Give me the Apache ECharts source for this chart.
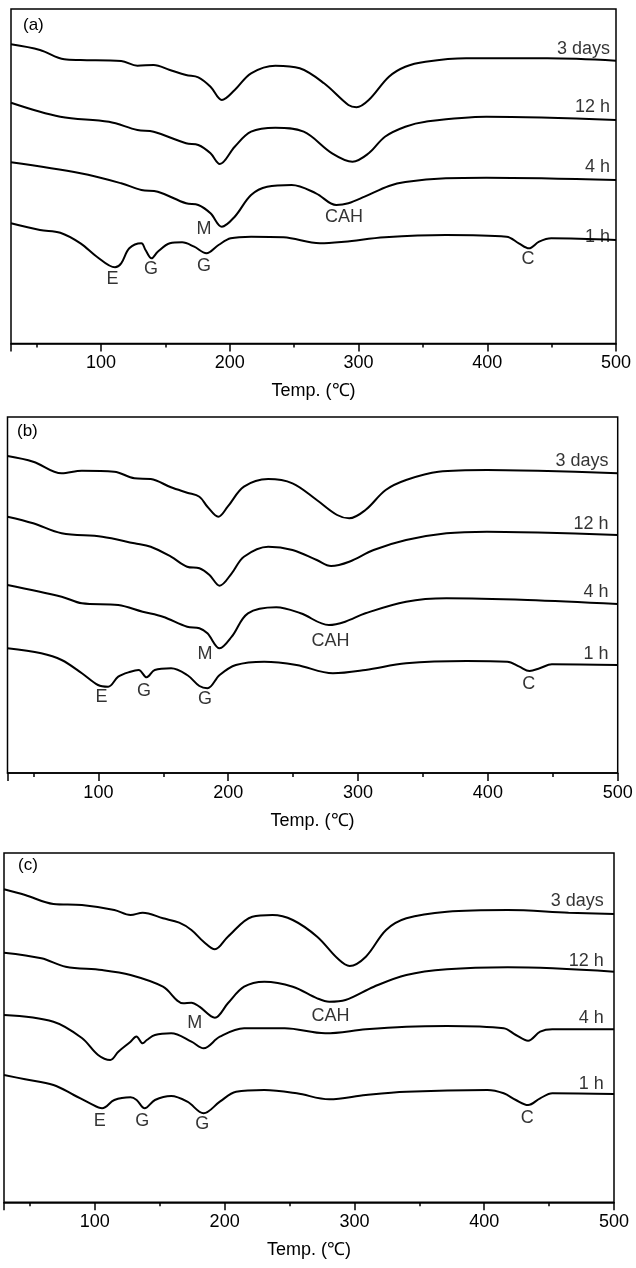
<!DOCTYPE html>
<html>
<head>
<meta charset="utf-8">
<script src="https://cdn.jsdelivr.net/npm/echarts@6/dist/echarts.min.js"></script>
<style>
html,body{margin:0;padding:0;background:#fff;}
#chart{width:636px;height:1268px;}
</style>
</head>
<body>
<div id="chart"></div>
<script>
// ---------- DATA (temperature in °C, DSC signal in arbitrary units, endo down, curves offset) ----------
const TEMP_MIN = 30, TEMP_MAX = 500;
const majorTicks = [100, 200, 300, 400, 500];
const minorTicks = [50, 150, 250, 350, 450];
const panelNames = ['(a)', '(b)', '(c)'];
const curveNames = ['3 days', '12 h', '4 h', '1 h'];
const axisTitle = 'Temp. (℃)';

// Panel (a)
const a3dT = [30,52.5,71.4,84,115.6,128.2,140.8,153.4,166,175.5,185,193.8,203.8,216.5,235.4,254.3,273.2,292.1,298.4,307.9,323.6,336.3,352,383.5,446.6,500];
const a3dV = [299.2,293.5,284.2,283.5,282.5,277.8,278.5,273.5,268.5,266.2,256.8,243.5,253.5,270.2,277.8,275.2,260.2,238.5,236.2,243.5,266.8,276.8,281.8,285.2,285.2,282.8];
const a12T = [30,68.3,106.1,128.2,140.8,166,175.5,185,192.2,203.8,216.5,235.4,257.4,279.5,295.3,307.9,320.5,336.3,352,399.3,500];
const a12V = [240.8,226.8,221.8,213.5,211.8,200.2,198.5,190.2,179.5,196.8,211.8,215.8,211.8,190.2,181.8,190.2,206.8,216.8,221.8,226.8,223.5];
const a4T = [30,84,115.6,131.3,144,166,175.5,185,193.8,203.8,216.5,229,248,266.9,282.7,292.1,304.7,323.6,336.3,367.8,399.3,500];
const a4V = [181.2,170.2,160.2,153.5,151.8,140.2,138.5,130.2,116.8,126.8,148.5,156.8,158.5,150.2,138.5,140.2,146.8,157.5,161.5,165.2,165.8,163.5];
const a1T = [30,52.5,68.3,84,96.7,110.8,115.6,121.9,131.3,134.5,139.2,144,153.4,162.9,172.3,181.8,191.2,200.7,216.5,241.7,270,289,320.5,367.8,415,424.5,432.4,440.3,449.7,500];
const a1V = [120.2,113.5,110.8,100.2,86.8,76.2,80.2,95.2,100.2,93.5,85.2,91.8,100.2,101.2,96.8,90.2,98.5,105.2,106.8,106.2,100.2,101.8,106.2,108.5,106.8,100.2,95.2,101.8,105.2,103.5];
const aLabelText = ['3 days','12 h','4 h','1 h','M','CAH','E','G','G','C'];
const aLabelT = [495.7,495.7,495.7,495.7,180.3,289,109.2,139.1,180.3,432];
const aLabelV = [293.5,235.5,175.5,105.5,113.5,125.5,63.5,74.2,76.5,83.5];

// Panel (b)
const b3dT = [30,49.8,71.7,87.3,112.2,127.8,140.3,155.9,168.4,177.8,184,192.4,199.6,212.1,230.8,249.5,268.2,283.9,293.2,305.7,321.3,337,361.9,399.3,446.1,500];
const b3dV = [317,311.3,299.7,302.3,301.3,294.7,294,285.7,280.3,276.3,266.3,256.3,266.3,286.3,294,289.7,273,258,254.7,263,283,293,301.3,303,302,299.7];
const b12T = [30,49.8,71.7,102.9,127.8,140.3,155.9,168.4,177.8,185.6,193.4,202.7,212.1,230.8,249.5,268.2,279.2,293.2,312,337,368.1,399.3,446.1,500];
const b12V = [256.3,249.7,239.7,236.3,229.7,226.3,216.3,206.3,204.7,198,187.3,199.7,216.3,226.3,223,213,207,211.3,223,233,239.7,241.3,240.3,238];
const b4T = [30,71.7,87.3,115.3,134.1,149.7,168.4,177.8,184,193.4,202.7,215.2,237,255.8,277.6,290.1,305.7,337,368.1,430.5,500];
const b4V = [188,176.3,169.7,168,161.3,156.3,146.3,144.7,139.7,124.7,136.3,159.7,165.7,159.7,148,151.3,159.7,171.3,174.7,173,169];
const b1T = [30,56,71.7,87.3,99.7,107.5,115.3,124.7,131,137.2,143.4,156,168.4,177.8,184,193.4,205.9,227.7,252.6,280.7,305.7,337,383.7,415,424.3,432.1,439.9,449.3,500];
const b1V = [124.7,119.7,113,99.7,88,86.3,96.3,101.3,103,95.7,103,104.7,98,87,84.7,98,108,111.3,108,99.7,103,109.7,112,111.3,106.3,102,104.7,108.7,108];
const bLabelText = ['3 days','12 h','4 h','1 h','M','CAH','E','G','G','C'];
const bLabelT = [493.3,493.3,493.3,493.3,182.5,279.2,102.8,135.6,182.5,431.8];
const bLabelV = [311.3,248,180,118,118,131.3,75,81.3,73,88];

// Panel (c)
const c3dT = [30,46.3,68.1,90,115,127.5,136.9,152.5,165,174.4,183.8,192.5,202.5,221.3,236.9,252.5,271.3,286.9,296.3,308.8,324.4,340,371.3,418.1,465,500];
const c3dV = [313,307.3,298.3,297.3,292.3,287.3,289.6,284,279.6,272.3,260.6,253,265.6,285.6,287.3,282.3,265.6,244,236.3,245.6,272.3,284,290.6,292.3,289.6,288.3];
const c12T = [30,58.8,77.5,105.6,127.5,152.5,168.1,174.4,180.6,192.5,202.5,215,230.6,252.5,271.3,280.6,293.1,315,340,371.3,418.1,500];
const c12V = [249.6,244,235.6,232.3,227.3,215.6,199,199.6,195.6,184.6,199,215.6,220.6,215.6,204,200.6,202.3,215.6,227.3,233,235,230.6];
const c4T = [30,68.1,90,102.5,111.9,118.1,127.5,132,136.9,140,146.3,158.8,174.4,183.8,196.3,215,246.3,277.5,308.8,340,371.3,415,424.4,433.8,443.1,452.5,500];
const c4V = [187.3,180.6,164.3,147.3,142.3,150.6,160.6,165.8,159,162.3,167.3,169,160.6,154,165.6,174,174,169,173,175.6,176.3,174,167.3,161.6,170.6,173,173];
const c1T = [30,46.3,68.1,83.8,96.3,105.6,115,127.5,132.2,138.4,146.3,158.8,171.3,183.8,196.3,208.8,230.6,255.6,280.6,308.8,340,402.5,415,424.4,433.8,443.1,452.5,500];
const c1V = [127.3,123,117.3,107.3,99,94,102.3,105,102.3,94,102.3,106.3,100.6,89,100.6,110.6,112.3,109,103,107.3,110.6,112.3,109,102.3,97.3,104,109,108.3];
const cLabelText = ['3 days','12 h','4 h','1 h','M','CAH','E','G','G','C'];
const cLabelT = [492.5,492.5,492.5,492.5,177.4,282,104.1,136.9,183.1,433.6];
const cLabelV = [300.6,240.6,184,117.3,179,185.6,80.6,80.6,77.3,84];

// ---------- LAYOUT ----------
const FONT = '"Liberation Sans", Arial, sans-serif';
const grids = [
  {left: 11, top: 9, width: 605, height: 334.5, yMax: 334.5},
  {left: 7.5, top: 417, width: 610.2, height: 356, yMax: 356},
  {left: 4, top: 853, width: 610, height: 349.3, yMax: 349.3}
];
const panels = [
  {curves: [[a3dT,a3dV],[a12T,a12V],[a4T,a4V],[a1T,a1V]], lt: aLabelText, lx: aLabelT, ly: aLabelV, titleY: 27},
  {curves: [[b3dT,b3dV],[b12T,b12V],[b4T,b4V],[b1T,b1V]], lt: bLabelText, lx: bLabelT, ly: bLabelV, titleY: 433},
  {curves: [[c3dT,c3dV],[c12T,c12V],[c4T,c4V],[c1T,c1V]], lt: cLabelText, lx: cLabelT, ly: cLabelV, titleY: 867}
];
const titleX = [23, 17, 18];

const zip = (xs, ys) => xs.map((x, i) => [x, ys[i]]);

const option = {
  animation: false,
  backgroundColor: '#fff',
  grid: [], xAxis: [], yAxis: [], series: [], graphic: []
};

grids.forEach((g, i) => {
  option.grid.push({left: g.left, top: g.top, width: g.width, height: g.height,
    show: true, borderColor: '#000', borderWidth: 1.5, backgroundColor: 'transparent', containLabel: false});
  // major axis
  option.xAxis.push({
    type: 'value', gridIndex: i, position: 'bottom', min: TEMP_MIN, max: TEMP_MAX,
    axisLine: {show: true, lineStyle: {color: '#000', width: 1.5}},
    axisTick: {show: true, inside: false, length: 8, customValues: [TEMP_MIN].concat(majorTicks), lineStyle: {color: '#000', width: 1.5}},
    axisLabel: {show: true, customValues: majorTicks, color: '#000', fontSize: 18, fontFamily: FONT, margin: 11},
    splitLine: {show: false},
    name: axisTitle, nameLocation: 'middle', nameGap: 39,
    nameTextStyle: {color: '#000', fontSize: 18, fontFamily: FONT}
  });
  // minor ticks
  option.xAxis.push({
    type: 'value', gridIndex: i, position: 'bottom', min: TEMP_MIN, max: TEMP_MAX,
    axisLine: {show: false},
    axisTick: {show: true, inside: false, length: 4, customValues: minorTicks, lineStyle: {color: '#000', width: 1.5}},
    axisLabel: {show: false}, splitLine: {show: false}
  });
  option.yAxis.push({type: 'value', gridIndex: i, min: 0, max: g.yMax, show: false});

  const p = panels[i];
  p.curves.forEach((c, k) => {
    option.series.push({
      type: 'line', name: curveNames[k], xAxisIndex: 2 * i, yAxisIndex: i,
      data: zip(c[0], c[1]), smooth: 0.35, symbol: 'none',
      lineStyle: {color: '#000', width: 2}
    });
  });
  option.series.push({
    type: 'scatter', xAxisIndex: 2 * i, yAxisIndex: i, symbolSize: 1,
    itemStyle: {color: 'rgba(0,0,0,0)'},
    data: p.lt.map((t, k) => ({
      value: [p.lx[k], p.ly[k]],
      label: {
        show: true, formatter: t, position: [0, 0],
        align: k < 4 ? 'right' : 'center', verticalAlign: 'middle',
        color: '#000', fontSize: 18, fontFamily: FONT
      }
    }))
  });
  option.graphic.push({
    type: 'text', left: titleX[i], top: p.titleY - 10,
    style: {text: panelNames[i], fill: '#000', font: '17px ' + FONT}
  });
});

const chart = echarts.init(document.getElementById('chart'), null, {renderer: 'canvas'});
chart.setOption(option);
</script>
</body>
</html>
